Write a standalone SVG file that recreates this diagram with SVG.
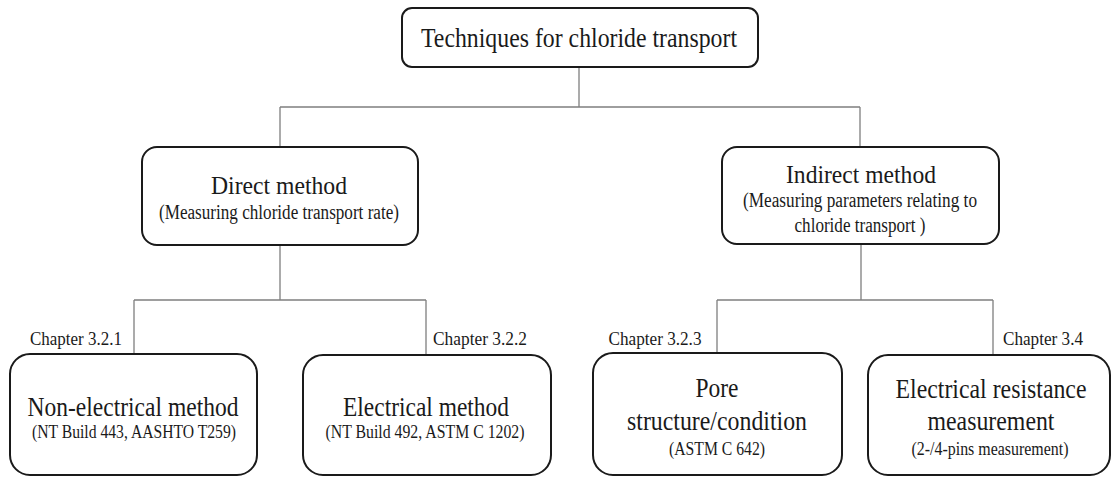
<svg xmlns="http://www.w3.org/2000/svg" width="1113" height="477" viewBox="0 0 1113 477">
<style>
.box{fill:#fff;stroke:#1a1a1a;stroke-width:2}
.conn{fill:none;stroke:#7f7f7f;stroke-width:1.3}
</style>
<rect width="1113" height="477" fill="#fff"/>
<g id="connectors">
<path class="conn" d="M579,67 V107 M280,107 H860 M280,107 V147 M860,107 V147"/>
<path class="conn" d="M280,245 V300 M134,300 H426 M134,300 V354 M426,300 V354"/>
<path class="conn" d="M861,244 V300 M717,300 H993 M717,300 V354 M993,300 V354"/>
</g>
<g id="root">
<rect class="box" x="402" y="8" width="356" height="59" rx="10"/>
<text x="579" y="47" font-family="Liberation Serif" font-size="27" fill="#1a1a1a" text-anchor="middle" textLength="316" lengthAdjust="spacingAndGlyphs">Techniques for chloride transport</text>
</g>
<g id="direct">
<rect class="box" x="142" y="147" width="276" height="98" rx="15"/>
<text x="279" y="194" font-family="Liberation Serif" font-size="26" fill="#1a1a1a" text-anchor="middle" textLength="136" lengthAdjust="spacingAndGlyphs">Direct method</text>
<text x="279" y="219" font-family="Liberation Serif" font-size="20" fill="#1a1a1a" text-anchor="middle" textLength="240" lengthAdjust="spacingAndGlyphs">(Measuring  chloride transport rate)</text>
</g>
<g id="indirect">
<rect class="box" x="722" y="147" width="277" height="97" rx="15"/>
<text x="861" y="183" font-family="Liberation Serif" font-size="26" fill="#1a1a1a" text-anchor="middle" textLength="150" lengthAdjust="spacingAndGlyphs">Indirect method</text>
<text x="860" y="207" font-family="Liberation Serif" font-size="20" fill="#1a1a1a" text-anchor="middle" textLength="234" lengthAdjust="spacingAndGlyphs">(Measuring parameters relating to</text>
<text x="860" y="232" font-family="Liberation Serif" font-size="20" fill="#1a1a1a" text-anchor="middle" textLength="131" lengthAdjust="spacingAndGlyphs">chloride transport )</text>
</g>
<g id="nonelectrical">
<text x="76" y="345" font-family="Liberation Serif" font-size="18" fill="#1a1a1a" text-anchor="middle" textLength="92" lengthAdjust="spacingAndGlyphs">Chapter 3.2.1</text>
<rect class="box" x="10" y="354" width="247" height="121" rx="20"/>
<text x="133" y="416" font-family="Liberation Serif" font-size="28" fill="#1a1a1a" text-anchor="middle" textLength="211" lengthAdjust="spacingAndGlyphs">Non-electrical method</text>
<text x="134" y="438" font-family="Liberation Serif" font-size="18" fill="#1a1a1a" text-anchor="middle" textLength="204" lengthAdjust="spacingAndGlyphs">(NT Build 443, AASHTO T259)</text>
</g>
<g id="electrical">
<text x="480" y="345" font-family="Liberation Serif" font-size="18" fill="#1a1a1a" text-anchor="middle" textLength="94" lengthAdjust="spacingAndGlyphs">Chapter 3.2.2</text>
<rect class="box" x="303" y="355" width="248" height="120" rx="20"/>
<text x="426" y="416" font-family="Liberation Serif" font-size="28" fill="#1a1a1a" text-anchor="middle" textLength="166" lengthAdjust="spacingAndGlyphs">Electrical method</text>
<text x="425" y="438" font-family="Liberation Serif" font-size="18" fill="#1a1a1a" text-anchor="middle" textLength="199" lengthAdjust="spacingAndGlyphs">(NT Build 492, ASTM C 1202)</text>
</g>
<g id="pore">
<text x="655" y="345" font-family="Liberation Serif" font-size="18" fill="#1a1a1a" text-anchor="middle" textLength="93" lengthAdjust="spacingAndGlyphs">Chapter 3.2.3</text>
<rect class="box" x="593" y="353" width="249" height="122" rx="20"/>
<text x="717" y="397" font-family="Liberation Serif" font-size="28" fill="#1a1a1a" text-anchor="middle" textLength="43" lengthAdjust="spacingAndGlyphs">Pore</text>
<text x="717" y="430" font-family="Liberation Serif" font-size="28" fill="#1a1a1a" text-anchor="middle" textLength="180" lengthAdjust="spacingAndGlyphs">structure/condition</text>
<text x="717" y="455" font-family="Liberation Serif" font-size="18" fill="#1a1a1a" text-anchor="middle" textLength="96" lengthAdjust="spacingAndGlyphs">(ASTM C 642)</text>
</g>
<g id="resistance">
<text x="1043" y="345" font-family="Liberation Serif" font-size="18" fill="#1a1a1a" text-anchor="middle" textLength="80" lengthAdjust="spacingAndGlyphs">Chapter 3.4</text>
<rect class="box" x="868" y="355" width="242" height="120" rx="20"/>
<text x="991" y="398" font-family="Liberation Serif" font-size="28" fill="#1a1a1a" text-anchor="middle" textLength="191" lengthAdjust="spacingAndGlyphs">Electrical resistance</text>
<text x="991" y="430" font-family="Liberation Serif" font-size="28" fill="#1a1a1a" text-anchor="middle" textLength="127" lengthAdjust="spacingAndGlyphs">measurement</text>
<text x="990" y="455" font-family="Liberation Serif" font-size="18" fill="#1a1a1a" text-anchor="middle" textLength="157" lengthAdjust="spacingAndGlyphs">(2-/4-pins measurement)</text>
</g>
</svg>
